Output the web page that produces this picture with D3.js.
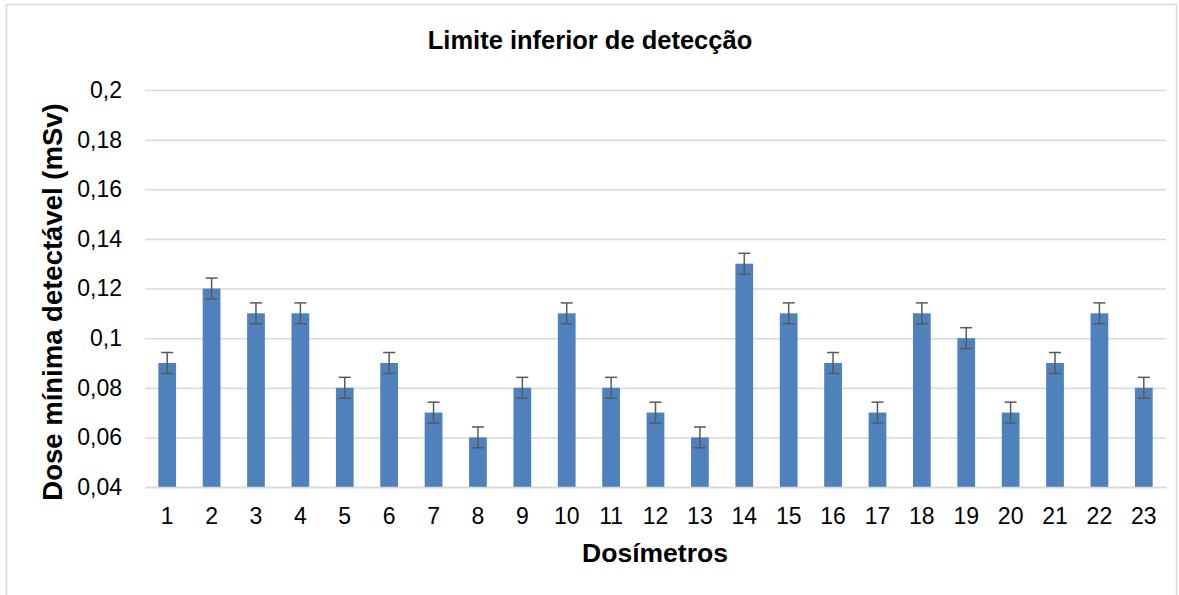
<!DOCTYPE html>
<html>
<head>
<meta charset="utf-8">
<script src="https://cdn.jsdelivr.net/npm/d3@7"></script>
<style>
  body { margin: 0; background: #fff; }
  svg { font-family: "Liberation Sans", Arial, sans-serif; }
</style>
</head>
<body>
<svg id="chart" width="1179" height="595"></svg>
<script>
// dados
var dosimetros = ["1","2","3","4","5","6","7","8","9","10","11","12","13","14","15","16","17","18","19","20","21","22","23"];
var doses = [0.09,0.12,0.11,0.11,0.08,0.09,0.07,0.06,0.08,0.11,0.08,0.07,0.06,0.13,0.11,0.09,0.07,0.11,0.10,0.07,0.09,0.11,0.08];
var erros = [0.0042,0.0042,0.0042,0.0042,0.0042,0.0042,0.0042,0.0042,0.0042,0.0042,0.0042,0.0042,0.0042,0.0042,0.0042,0.0042,0.0042,0.0042,0.0042,0.0042,0.0042,0.0042,0.0042];
var yTicks = [0.04,0.06,0.08,0.10,0.12,0.14,0.16,0.18,0.20];

function barchart(chart) {
    var margin = { top: 90, right: 13, bottom: 108, left: 145 },
        width = 1179 - margin.left - margin.right,
        height = 595 - margin.top - margin.bottom;

    let svg = d3.select("#" + chart);

    // borda do gráfico
    svg.append("rect")
        .attr("x", 6.5).attr("y", 4.5)
        .attr("width", 1170).attr("height", 600)
        .attr("fill", "none")
        .attr("stroke", "#d9d9d9")
        .attr("stroke-width", 1.5);

    let g = svg.append("g").attr("transform", "translate(" + margin.left + "," + margin.top + ")");

    let x = d3.scaleBand()
        .domain(dosimetros)
        .paddingInner(0.6)
        .paddingOuter(0.3)
        .range([0, width]);

    let y = d3.scaleLinear()
        .domain([0.04, 0.2])
        .range([height, 0]);

    // linhas de grade
    g.append("g")
        .attr("class", "y axis")
        .call(d3.axisLeft(y).tickValues(yTicks).tickSize(-width).tickPadding(23)
            .tickFormat(d => d3.format("")(+d.toFixed(2)).replace(".", ",")))
        .call(a => a.select(".domain").remove())
        .call(a => a.selectAll("line").attr("stroke", "#d9d9d9").attr("stroke-width", 1.5))
        .call(a => a.selectAll("text").attr("fill", "#000").style("font-size", "23px"));

    g.selectAll(".bar")
        .data(doses)
        .enter()
        .append("rect")
        .attr("class", "bar")
        .attr("x", (d, i) => x(dosimetros[i]))
        .attr("y", d => y(d))
        .attr("width", x.bandwidth())
        .attr("height", d => height - y(d))
        .style("fill", "#4f81bd");

    // barras de erro
    let eb = g.selectAll(".err")
        .data(doses)
        .enter()
        .append("g")
        .attr("class", "err")
        .attr("stroke", "#595959")
        .attr("stroke-width", 1.5);
    let cx = (d, i) => x(dosimetros[i]) + x.bandwidth() / 2;
    eb.append("line")
        .attr("x1", cx).attr("x2", cx)
        .attr("y1", (d, i) => y(d + erros[i]))
        .attr("y2", (d, i) => y(d - erros[i]));
    eb.append("line")
        .attr("x1", (d, i) => cx(d, i) - 6).attr("x2", (d, i) => cx(d, i) + 6)
        .attr("y1", (d, i) => y(d + erros[i]))
        .attr("y2", (d, i) => y(d + erros[i]));
    eb.append("line")
        .attr("x1", (d, i) => cx(d, i) - 6).attr("x2", (d, i) => cx(d, i) + 6)
        .attr("y1", (d, i) => y(d - erros[i]))
        .attr("y2", (d, i) => y(d - erros[i]));

    g.append("g")
        .attr("class", "x axis")
        .attr("transform", "translate(0, " + height + ")")
        .call(d3.axisBottom(x).tickSize(0).tickPadding(21))
        .call(a => a.select(".domain").attr("stroke", "#d9d9d9").attr("stroke-width", 1.5))
        .call(a => a.selectAll("text").attr("fill", "#000").style("font-size", "23px"));

    svg.append("text")
        .attr("x", 590).attr("y", 49)
        .attr("text-anchor", "middle")
        .style("font-size", "25.5px").style("font-weight", "bold")
        .text("Limite inferior de detecção");

    svg.append("text")
        .attr("x", 655).attr("y", 562)
        .attr("text-anchor", "middle")
        .style("font-size", "26.5px").style("font-weight", "bold")
        .text("Dosímetros");

    svg.append("text")
        .attr("transform", "translate(62,302) rotate(-90)")
        .attr("text-anchor", "middle")
        .style("font-size", "27.5px").style("font-weight", "bold")
        .text("Dose mínima detectável (mSv)");
}

barchart("chart");
</script>
</body>
</html>
